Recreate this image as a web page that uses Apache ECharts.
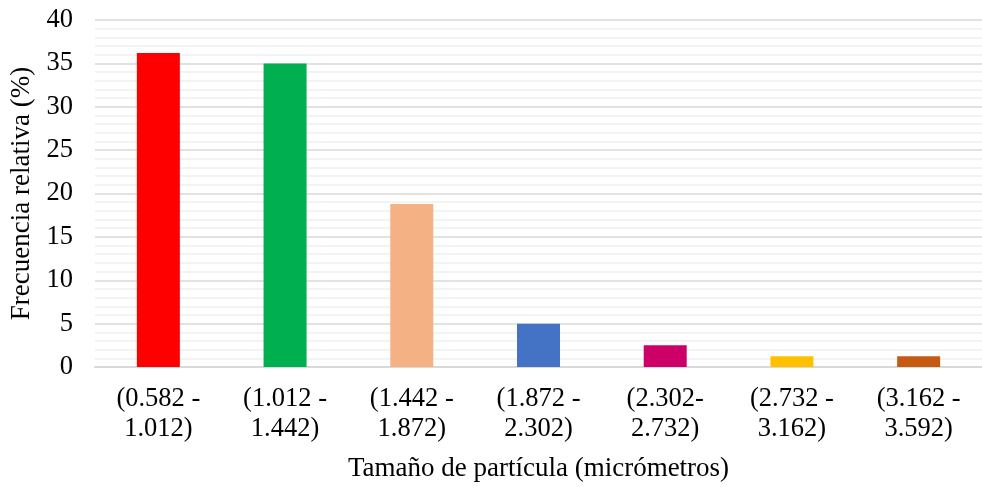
<!DOCTYPE html>
<html><head><meta charset="utf-8">
<script src="https://cdn.jsdelivr.net/npm/echarts@6/dist/echarts.min.js"></script>
<style>html,body{margin:0;padding:0;background:#fff}#c{width:982px;height:487px}</style>
</head><body><div id="c"></div>
<script>
const categories = ["(0.582 -\n1.012)", "(1.012 -\n1.442)", "(1.442 -\n1.872)", "(1.872 -\n2.302)", "(2.302-\n2.732)", "(2.732 -\n3.162)", "(3.162 -\n3.592)"];
const values = [36.2, 35.0, 18.8, 5.0, 2.5, 1.25, 1.25];
const barColors = ["#FF0000", "#00B050", "#F4B183", "#4472C4", "#CC0066", "#FFC000", "#C55A11"];
const yTicks = { min: 0, max: 40, interval: 5 };
const font = "'Liberation Serif', 'Times New Roman', serif";
const chart = echarts.init(document.getElementById('c'));
chart.setOption({
  animation: false,
  grid: { left: 95, top: 20, width: 895, height: 352 },
  xAxis: {
    type: 'category', data: categories,
    axisLine: { lineStyle: { color: '#d9d9d9', width: 2 } },
    axisTick: { show: false },
    axisLabel: { color: '#000', fontFamily: font, fontSize: 26.5, lineHeight: 30, margin: 17, interval: 0 },
    name: 'Tamaño de partícula (micrómetros)', nameLocation: 'middle', nameGap: 88,
    nameTextStyle: { color: '#000', fontFamily: font, fontSize: 27 }
  },
  yAxis: {
    type: 'value', min: yTicks.min, max: yTicks.max, interval: yTicks.interval,
    axisLine: { show: false }, axisTick: { show: false },
    axisLabel: { color: '#000', fontFamily: font, fontSize: 26.5, margin: 22 },
    splitLine: { lineStyle: { color: '#d9d9d9', width: 1.5 } },
    minorTick: { show: false, splitNumber: 5 },
    minorSplitLine: { show: true, lineStyle: { color: '#f0f0f0', width: 1.5 } },
    name: 'Frecuencia relativa (%)', nameLocation: 'middle', nameGap: 59,
    nameTextStyle: { color: '#000', fontFamily: font, fontSize: 27 }
  },
  series: [{
    type: 'bar', barWidth: 43,
    data: values.map((v, i) => ({ value: v, itemStyle: { color: barColors[i] } }))
  }]
});
</script></body></html>
